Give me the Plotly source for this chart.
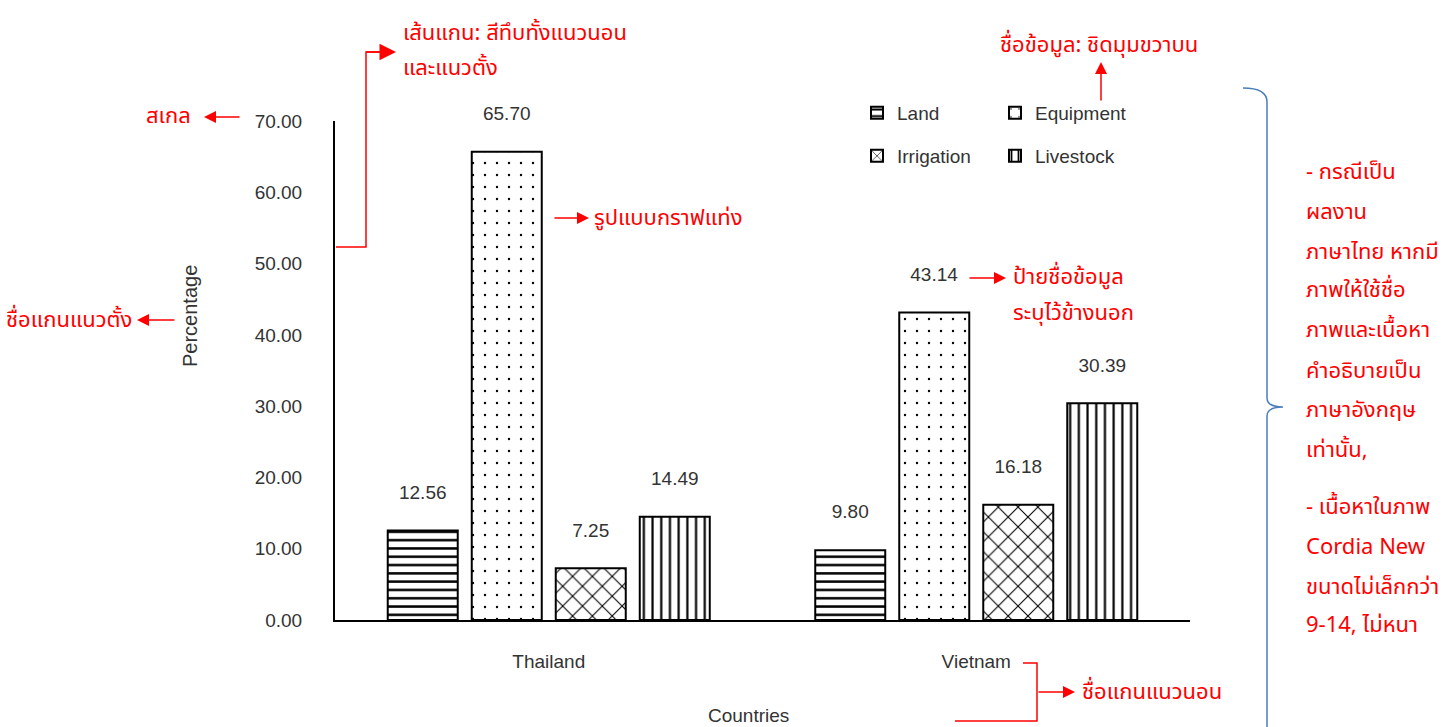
import plotly.graph_objects as go

# ---------------- data ----------------
categories = ["Thailand", "Vietnam"]
series_names = ["Land", "Equipment", "Irrigation", "Livestock"]
land = [12.56, 9.80]
equipment = [65.70, 43.14]
irrigation = [7.25, 16.18]
livestock = [14.49, 30.39]
y_ticks = [0, 10, 20, 30, 40, 50, 60, 70]

# ---------------- geometry helpers (annotation layer only) ----------------
W, H = 1455, 727
ML, MR, MT, MB = 335, 265, 121, 107
PW, PH = W - ML - MR, H - MT - MB


def X(px):
    return (px - ML) / PW


def Y(py):
    return (H - MB - py) / PH


NUM_FONT = dict(family="Liberation Sans, Arial, sans-serif", size=19, color="#333333")
THAI = "Tahoma, 'Noto Sans Thai', Loma, Garuda, 'Liberation Sans', sans-serif"
RED = "#ff0000"
RED_FONT = dict(family=THAI, size=22, color=RED)

patterns = {
    "Land": dict(shape="-", size=8.3, solidity=0.3),
    "Equipment": dict(shape=".", size=12, solidity=0.03),
    "Irrigation": dict(shape="x", size=14, solidity=0.15),
    "Livestock": dict(shape="|", size=8.7, solidity=0.25),
}
legend_of = {"Land": "legend", "Equipment": "legend", "Irrigation": "legend2", "Livestock": "legend2"}

fig = go.Figure()
for name, vals in zip(series_names, [land, equipment, irrigation, livestock]):
    p = patterns[name]
    fig.add_trace(go.Bar(
        name=name, x=categories, y=vals,
        text=[f"{v:.2f}<br> " for v in vals],
        textposition="outside", cliponaxis=False,
        textfont=NUM_FONT,
        marker=dict(color="white", line=dict(color="black", width=2),
                    pattern=dict(shape=p["shape"], size=p["size"], solidity=p["solidity"],
                                 fgcolor="black", bgcolor="white", fillmode="replace")),
        legend=legend_of[name],
    ))

annotations = []


def txt(s, x, y, xanchor="left", font=RED_FONT, angle=0):
    annotations.append(dict(text=s, xref="paper", yref="paper", x=X(x), y=Y(y),
                            xanchor=xanchor, yanchor="middle", showarrow=False,
                            font=font, textangle=angle))


def arrow(x_head, y_head, x_tail, y_tail, size=1.6):
    annotations.append(dict(text="", xref="paper", yref="paper", x=X(x_head), y=Y(y_head),
                            ax=x_tail - x_head, ay=y_tail - y_head, axref="pixel", ayref="pixel",
                            showarrow=True, arrowhead=2, arrowsize=size, arrowwidth=1.5,
                            arrowcolor=RED))


# axis titles
txt("Percentage", 190, 316, xanchor="center",
    font=dict(family="Liberation Sans, Arial, sans-serif", size=20, color="#333333"), angle=-90)
txt("Countries", 748, 715, xanchor="center",
    font=dict(family="Liberation Sans, Arial, sans-serif", size=19, color="#333333"))

# red notes
txt("สเกล", 193, 116, xanchor="right")
arrow(204, 117, 241, 117)
txt("ชื่อแกนแนวตั้ง", 134, 320, xanchor="right")
arrow(137, 320, 176, 320)
txt("เส้นแกน: สีทึบทั้งแนวนอน", 401, 33)
txt("และแนวตั้ง", 401, 68)
arrow(396, 52, 365, 52, size=2.2)
txt("รูปแบบกราฟแท่ง", 592, 218)
arrow(589, 218, 553, 218)
txt("ชื่อข้อมูล: ชิดมุมขวาบน", 1099, 46, xanchor="center")
arrow(1101, 62, 1101, 102)
arrow(1006, 278, 968, 278)
txt("ป้ายชื่อข้อมูล", 1011, 277)
txt("ระบุไว้ข้างนอก", 1011, 313)
arrow(1075, 692, 1037, 692)
txt("ชื่อแกนแนวนอน", 1080, 692)

right_lines = [
    ("- กรณีเป็น", 172), ("ผลงาน", 212), ("ภาษาไทย หากมี", 252), ("ภาพให้ใช้ชื่อ", 290),
    ("ภาพและเนื้อหา", 330), ("คำอธิบายเป็น", 371), ("ภาษาอังกฤษ", 410), ("เท่านั้น,", 450),
    ("- เนื้อหาในภาพ", 507), ("Cordia New", 547), ("ขนาดไม่เล็กกว่า", 587), ("9-14, ไม่หนา", 625),
]
for s, yy in right_lines:
    txt(s, 1304, yy)


def path(points):
    d = "M " + " L ".join(f"{X(a):.5f},{Y(b):.5f}" for a, b in points)
    return d


shapes = [
    dict(type="path", xref="paper", yref="paper",
         path=path([(336, 247), (366, 247), (366, 52), (382, 52)]),
         line=dict(color=RED, width=1.5)),
    dict(type="path", xref="paper", yref="paper",
         path=path([(1023, 663), (1037, 663), (1037, 721), (955, 721)]),
         line=dict(color=RED, width=1.5)),
]
# blue brace
bx0, bx1, bx2 = 1243, 1267, 1283
brace = (f"M {X(bx0):.5f},{Y(88):.5f} Q {X(bx1):.5f},{Y(88):.5f} {X(bx1):.5f},{Y(102):.5f} "
         f"L {X(bx1):.5f},{Y(398):.5f} Q {X(bx1):.5f},{Y(407):.5f} {X(bx2):.5f},{Y(407):.5f} "
         f"Q {X(bx1):.5f},{Y(407):.5f} {X(bx1):.5f},{Y(416):.5f} L {X(bx1):.5f},{Y(740):.5f}")
shapes.append(dict(type="path", xref="paper", yref="paper", path=brace,
                   line=dict(color="#4A7EBB", width=1.5)))

legend_common = dict(orientation="h", xanchor="left", yanchor="middle",
                     font=dict(family="Liberation Sans, Arial, sans-serif", size=19, color="#333333"),
                     entrywidth=93, entrywidthmode="pixels", bgcolor="rgba(0,0,0,0)",
                     traceorder="normal")

fig.update_layout(
    width=W, height=H,
    margin=dict(l=ML, r=MR, t=MT, b=MB),
    paper_bgcolor="white", plot_bgcolor="white",
    barmode="group", bargap=0.214, bargroupgap=0.1667,
    showlegend=True,
    legend=dict(x=X(857), y=Y(113), **legend_common),
    legend2=dict(x=X(857), y=Y(156), **legend_common),
    xaxis=dict(showline=True, linecolor="black", linewidth=2, showgrid=False, ticks="",
               tickfont=dict(family="Liberation Sans, Arial, sans-serif", size=19, color="#333333"),
               ticklabelstandoff=23, range=[-0.5, 1.5], zeroline=False),
    yaxis=dict(showline=True, linecolor="black", linewidth=2, showgrid=False, ticks="",
               range=[0, 70], tickvals=y_ticks, tickformat=".2f", zeroline=False,
               tickfont=dict(family="Liberation Sans, Arial, sans-serif", size=19, color="#333333"),
               ticklabelstandoff=27),
    annotations=annotations,
    shapes=shapes,
)

fig.write_html("out.html", config={"displayModeBar": False},
               post_script="document.body.style.margin='0';")
